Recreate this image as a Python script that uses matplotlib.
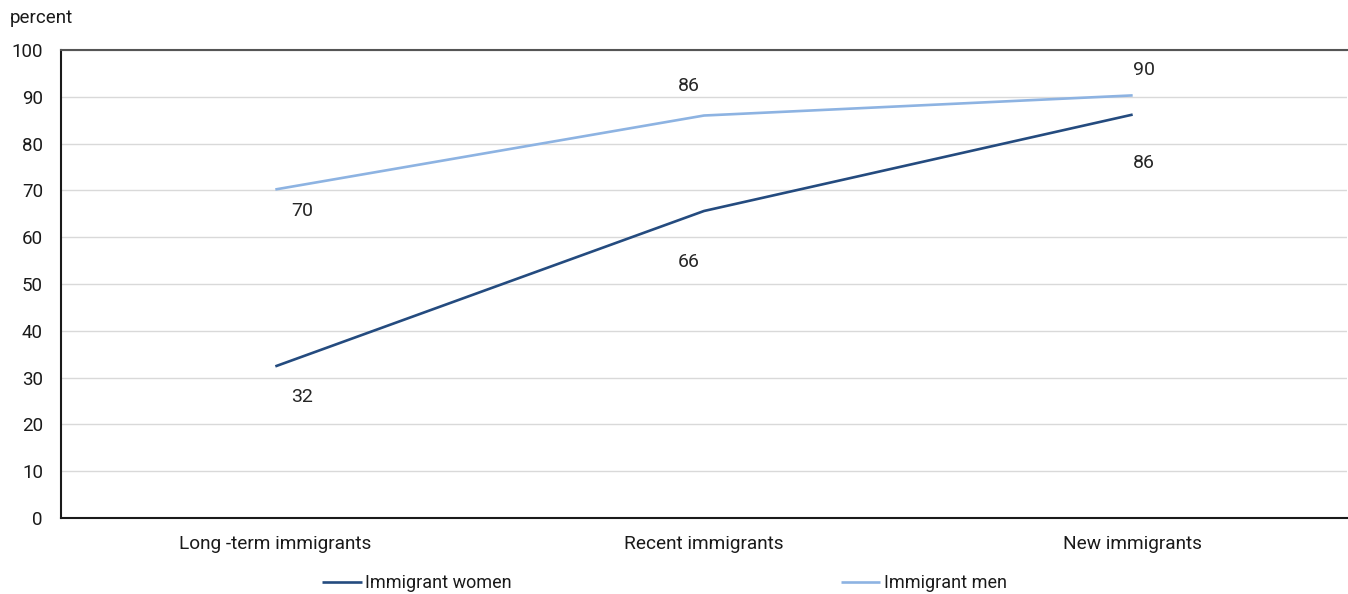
import matplotlib
matplotlib.use("Agg")
import matplotlib.pyplot as plt

categories = ["Long -term immigrants", "Recent immigrants", "New immigrants"]
women = [32.4, 65.6, 86.2]
men = [70.2, 86.0, 90.3]
yticks = [0, 10, 20, 30, 40, 50, 60, 70, 80, 90, 100]

# label offsets (pixels) for each series' value labels
women_offsets = [(27, -31), (-15, -51), (11, -48)]
men_offsets = [(27, -22), (-15, 30), (11, 25)]

plt.rcParams["font.family"] = ["Roboto", "DejaVu Sans"]

W, H = 1348, 594
fig = plt.figure(figsize=(W / 100, H / 100), dpi=100)
ax = fig.add_axes([61 / W, (H - 518) / H, (1347 - 61) / W, (518 - 50) / H])

x = list(range(len(categories)))
c_women = "#244b7f"
c_men = "#8db3e2"
lw, = ax.plot(x, women, color=c_women, lw=1.9, label="Immigrant women", solid_capstyle="butt")
lm, = ax.plot(x, men, color=c_men, lw=1.9, label="Immigrant men", solid_capstyle="butt")

for xi, v, off in zip(x, women, women_offsets):
    ax.annotate(f"{v:.0f}", (xi, v), xytext=off, textcoords="offset pixels",
                ha="center", va="center", fontsize=14, color="#262626")
for xi, v, off in zip(x, men, men_offsets):
    ax.annotate(f"{v:.0f}", (xi, v), xytext=off, textcoords="offset pixels",
                ha="center", va="center", fontsize=14, color="#262626")

ax.set_xlim(-0.5, 2.5)
ax.set_ylim(0, 100)
ax.set_yticks(yticks)
ax.set_xticks(x)
ax.set_xticklabels(categories)
ax.tick_params(axis="both", length=0, colors="#1a1a1a")
ax.tick_params(axis="y", pad=13, labelsize=13.5)
ax.tick_params(axis="x", pad=12, labelsize=13.7)
ax.grid(axis="y", color="#d9d9d9", lw=1)
ax.set_axisbelow(True)
for s in ["left", "bottom"]:
    ax.spines[s].set_color("#1a1a1a")
    ax.spines[s].set_linewidth(1.5)
ax.spines["top"].set_color("#555555")
ax.spines["top"].set_linewidth(1.5)
ax.spines["right"].set_visible(False)

fig.text(10 / W, 1 - 18 / H, "percent", fontsize=13.5, ha="left", va="center", color="#1a1a1a")

leg = fig.legend(handles=[lw, lm], loc="center left", bbox_to_anchor=(322 / W, 1 - 583 / H),
                 ncol=2, frameon=False, handlelength=2.2, handletextpad=0.2,
                 columnspacing=18.2, borderpad=0, borderaxespad=0,
                 prop={"size": 13})
for t in leg.get_texts():
    t.set_color("#1a1a1a")

fig.savefig("out.png", dpi=100)
